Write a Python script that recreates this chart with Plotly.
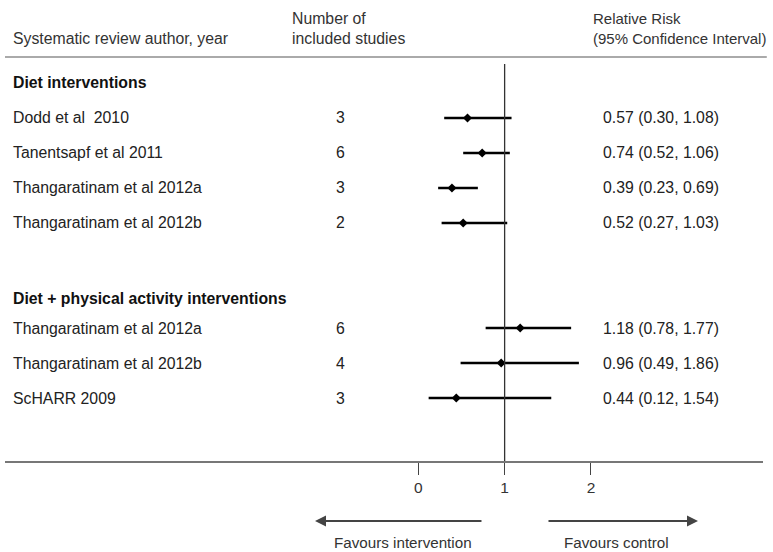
import plotly.graph_objects as go

# Forest plot data: pooled relative risks from systematic reviews
diet_authors = ["Dodd et al  2010", "Tanentsapf et al 2011",
                "Thangaratinam et al 2012a", "Thangaratinam et al 2012b"]
diet_n = [3, 6, 3, 2]
diet_rr = [0.57, 0.74, 0.39, 0.52]
diet_lo = [0.30, 0.52, 0.23, 0.27]
diet_hi = [1.08, 1.06, 0.69, 1.03]

pa_authors = ["Thangaratinam et al 2012a", "Thangaratinam et al 2012b", "ScHARR 2009"]
pa_n = [6, 4, 3]
pa_rr = [1.18, 0.96, 0.44]
pa_lo = [0.78, 0.49, 0.12]
pa_hi = [1.77, 1.86, 1.54]

group_titles = ["Diet interventions", "Diet + physical activity interventions"]
tick_values = [0, 1, 2]

FONT = "Liberation Sans, Arial, sans-serif"
TXT = "#222222"
FS = 15.8

# row layout (y in row units, increasing downwards)
diet_rows = [1 + i for i in range(len(diet_rr))]
pa_rows = [7 + i for i in range(len(pa_rr))]
title_rows = [0, 6.15]

authors = diet_authors + pa_authors
n_inc = diet_n + pa_n
rr = diet_rr + pa_rr
lo = diet_lo + pa_lo
hi = diet_hi + pa_hi
rows = diet_rows + pa_rows

fig = go.Figure()

# confidence interval lines
for r, a, b in zip(rows, lo, hi):
    fig.add_trace(go.Scatter(x=[a, b], y=[r, r], mode="lines",
                             line=dict(color="black", width=2.6),
                             hoverinfo="skip", showlegend=False))

# point estimates
fig.add_trace(go.Scatter(x=rr, y=rows, mode="markers",
                         marker=dict(symbol="diamond", size=7, color="black"),
                         showlegend=False))

# axis geometry
L, R, T, B = 5, 10, 0, 91
W, H = 773, 552
x_min, x_max = -4.786, 3.992
y_top, y_bot = -2.371, 10.8

def px_to_row(py):
    return y_top + (py - T) / (H - T - B) * (y_bot - y_top)

def px_to_paper_x(px):
    return (px - L) / (W - L - R)

def px_to_paper_y(py):
    return (H - B - py) / (H - T - B)

ann = []

def text(x, y, s, size=FS, bold=False, anchor="left", color=TXT, xref="paper", yref="y"):
    ann.append(dict(x=x, y=y, xref=xref, yref=yref, text=f"<b>{s}</b>" if bold else s,
                    showarrow=False, xanchor=anchor, yanchor="middle",
                    font=dict(family=FONT, size=size, color=color)))

# column headers
text(px_to_paper_x(11), px_to_row(38), "Systematic review author, year", color="#333")
text(px_to_paper_x(290), px_to_row(18), "Number of", color="#333")
text(px_to_paper_x(290), px_to_row(38), "included studies", color="#333")
text(px_to_paper_x(591), px_to_row(18), "Relative Risk", size=15, color="#333")
text(px_to_paper_x(591), px_to_row(38), "(95% Confidence Interval)", size=15, color="#333")

# group titles
for t, r in zip(group_titles, title_rows):
    text(px_to_paper_x(11), r, t, bold=True, color="#111")

# study rows
for a, n, r, e, l, h in zip(authors, n_inc, rows, rr, lo, hi):
    text(px_to_paper_x(11), r, a)
    text(px_to_paper_x(340), r, str(n), anchor="center")
    text(px_to_paper_x(601), r, f"{e:.2f} ({l:.2f}, {h:.2f})")

# direction arrows
arrow_y = px_to_paper_y(521)
label_y = px_to_paper_y(542)
ann.append(dict(x=(315 - 418.3) / 86.35, y=arrow_y, xref="x", yref="paper",
                ax=(483 - 418.3) / 86.35, ay=0, axref="x", ayref="pixel",
                text="", showarrow=True, arrowhead=2, arrowsize=1.1,
                arrowwidth=2, arrowcolor="#444"))
ann.append(dict(x=(698 - 418.3) / 86.35, y=arrow_y, xref="x", yref="paper",
                ax=(547 - 418.3) / 86.35, ay=0, axref="x", ayref="pixel",
                text="", showarrow=True, arrowhead=2, arrowsize=1.1,
                arrowwidth=2, arrowcolor="#444"))
text(px_to_paper_x(403), label_y, "Favours intervention", size=15.2, anchor="center", yref="paper", color="#333")
text(px_to_paper_x(616), label_y, "Favours control", size=15.2, anchor="center", yref="paper", color="#333")

shapes = [
    # header rule
    dict(type="line", xref="paper", yref="y", x0=0, x1=1.005,
         y0=px_to_row(57), y1=px_to_row(57), line=dict(color="#aaaaaa", width=2)),
    # line of no effect
    dict(type="line", xref="x", yref="y", x0=1, x1=1,
         y0=px_to_row(64), y1=y_bot, line=dict(color="#333", width=1.3)),
]

fig.update_layout(
    width=W, height=H,
    margin=dict(l=L, r=R, t=T, b=B, pad=0),
    paper_bgcolor="white", plot_bgcolor="white",
    annotations=ann, shapes=shapes,
    xaxis=dict(range=[x_min, x_max], showgrid=False, zeroline=False,
               showline=True, linecolor="#777", linewidth=1.5,
               ticks="outside", ticklen=12, tickwidth=1, tickcolor="#444",
               tickvals=tick_values, ticktext=[str(v) for v in tick_values],
               tickfont=dict(family=FONT, size=15.5, color="#333")),
    yaxis=dict(range=[y_bot, y_top], showgrid=False, zeroline=False,
               showline=False, showticklabels=False),
    showlegend=False,
)

fig.write_html("out.html")
